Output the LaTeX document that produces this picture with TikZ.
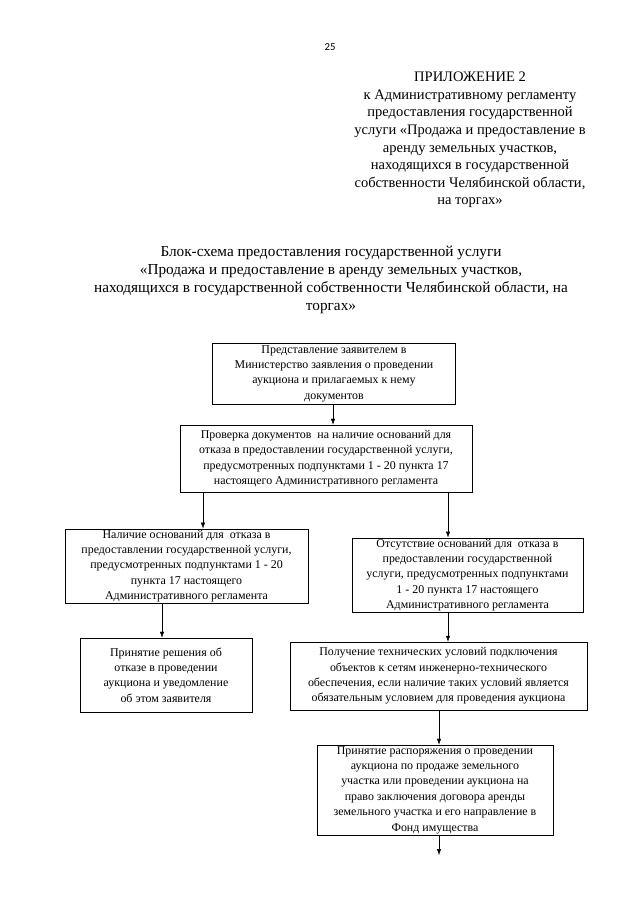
\documentclass[tikz,border=0pt]{standalone}
\usepackage{fontspec}
\setmainfont{Liberation Serif}
\newfontfamily\nomfont{Carlito}
\usetikzlibrary{arrows.meta}
\begin{document}
\begin{tikzpicture}[x=0.93pt, y=-0.93pt, >={Latex[length=5.5pt,width=4pt]},
	blok/.style={draw, line width=0.6pt, align=center, inner sep=1pt, font=\fontsize{11.1}{14.3}\selectfont}]
			\useasboundingbox (0,0) rectangle (640,905);
			% Шапка
			\node (nomer) at (330,47) {\nomfont\fontsize{10}{12}\selectfont 25};
			\node [align=center, font=\fontsize{13.5}{16.3}\selectfont] (pril) at (470,140) {ПРИЛОЖЕНИЕ 2\\к Административному регламенту\\предоставления государственной\\услуги «Продажа и предоставление в\\аренду земельных участков,\\находящихся в государственной\\собственности Челябинской области,\\на торгах»};
			\node [align=center, font=\fontsize{14.2}{16.5}\selectfont] (zag) at (331,280) {Блок-схема предоставления государственной услуги\\«Продажа и предоставление в аренду земельных участков,\\находящихся в государственной собственности Челябинской области, на\\торгах»};
			% Блоки
			\node [blok, minimum width=226pt, minimum height=56.7pt] (b1) at (334,373.5) {Представление заявителем в\\Министерство заявления о проведении\\аукциона и прилагаемых к нему\\документов};
			\node [blok, minimum width=271.6pt, minimum height=62.3pt] (b2) at (326,458.5) {Проверка документов\ \ на наличие оснований для\\отказа в предоставлении государственной услуги,\\предусмотренных подпунктами 1 - 20 пункта 17\\настоящего Административного регламента};
			\node [blok, minimum width=226pt, minimum height=68.8pt] (b3) at (186.5,566) {Наличие оснований для\ \ отказа в\\предоставлении государственной услуги,\\предусмотренных подпунктами 1 - 20\\пункта 17 настоящего\\Административного регламента};
			\node [blok, minimum width=214.8pt, minimum height=68.8pt] (b4) at (467.5,575) {Отсутствие оснований для\ \ отказа в\\предоставлении государственной\\услуги, предусмотренных подпунктами\\1 - 20 пункта 17 настоящего\\Административного регламента};
			\node [blok, minimum width=160pt, minimum height=68.8pt] (b5) at (166,675) {Принятие решения об\\отказе в проведении\\аукциона и уведомление\\об этом заявителя};
			\node [blok, minimum width=276.2pt, minimum height=63.2pt] (b6) at (438.5,676) {Получение технических условий подключения\\объектов к сетям инженерно-технического\\обеспечения, если наличие таких условий является\\обязательным условием для проведения аукциона};
			\node [blok, minimum width=219.5pt, minimum height=83.7pt] (b7) at (435,790) {Принятие распоряжения о проведении\\аукциона по продаже земельного\\участка или проведении аукциона на\\право заключения договора аренды\\земельного участка и его направление в\\Фонд имущества};
			% Стрелки
			\coordinate (s1) at (333,0);
			\coordinate (s2) at (203,0);
			\coordinate (s3) at (448,0);
			\coordinate (s4) at (162,0);
			\coordinate (s5) at (439,0);
			\coordinate (konec) at (439,855);
			\draw [->] (b1.south -| s1) -- (b2.north -| s1);
			\draw [->] (b2.south -| s2) -- (b3.north -| s2);
			\draw [->] (b2.south -| s3) -- (b4.north -| s3);
			\draw [->] (b3.south -| s4) -- (b5.north -| s4);
			\draw [->] (b4.south -| s3) -- (b6.north -| s3);
			\draw [->] (b6.south -| s5) -- (b7.north -| s5);
			\draw [->] (b7.south -| s5) -- (konec);
		\end{tikzpicture}
\end{document}
